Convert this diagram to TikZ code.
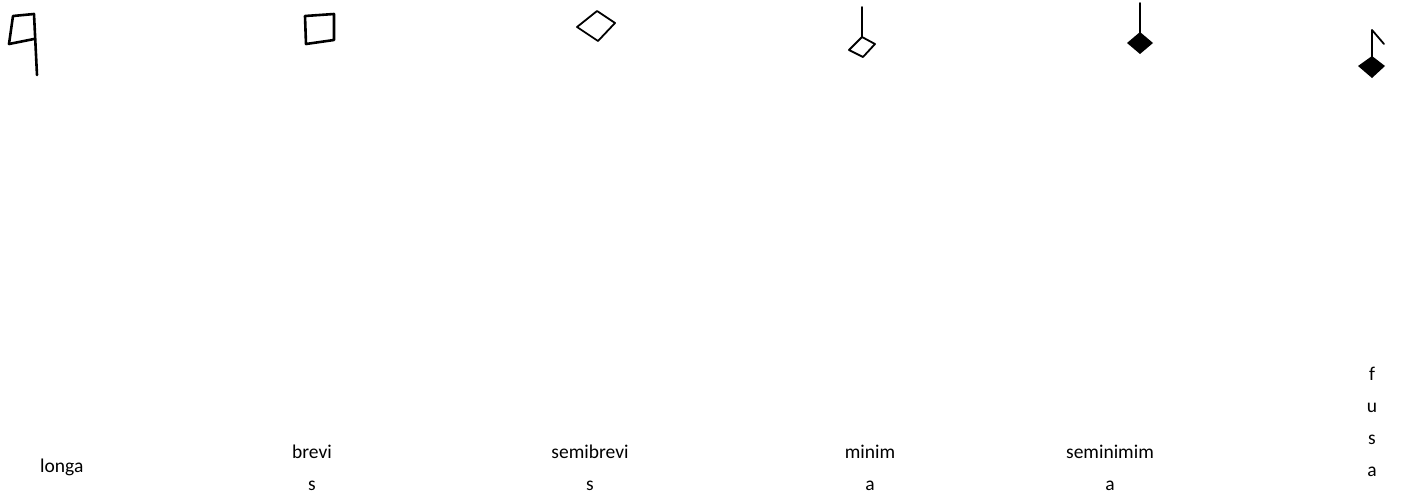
\documentclass[tikz,border=0pt]{standalone}
\usepackage{fontspec}
\setmainfont{Carlito}
\begin{document}
\begin{tikzpicture}[x=1pt,y=-1pt,
  lbl/.style={inner sep=0pt,align=center,font=\fontsize{19.5}{32}\selectfont},
  pen/.style={line width=2.6pt,line join=round,line cap=round},
  thinpen/.style={line width=1.8pt,line join=round,line cap=round}]
\useasboundingbox (0,0) rectangle (1401,501);
% longa
\draw[pen] (9,44) -- (13,16) -- (34,14) -- (37,75);
\draw[pen] (9,44) -- (34,39);
% brevis
\draw[pen] (305,16) -- (334,14) -- (334,40) -- (306,44) -- cycle;
% semibrevis
\draw[thinpen] (577,27) -- (597,11) -- (615,23) -- (598,41) -- cycle;
% minima
\draw[thinpen] (862,7) -- (862,37);
\draw[thinpen] (862,37) -- (875,44) -- (863,57) -- (849,50) -- cycle;
% seminimima
\draw[thinpen] (1140,3) -- (1140,33);
\fill[line join=round] (1140,32) -- (1153,43) -- (1140,54) -- (1127,43) -- cycle;
% fusa
\draw[thinpen] (1384,44) -- (1372,30) -- (1372,57);
\fill (1372,56) -- (1385,66) -- (1372,78) -- (1358,66) -- cycle;
% labels
\node[lbl,anchor=west] (longa) at (40,467) {longa};
\node[lbl] (brevis) at (312,468) {brevi\\s};
\node[lbl] (semibrevis) at (590,468) {semibrevi\\s};
\node[lbl] (minima) at (870,468) {minim\\a};
\node[lbl] (seminimima) at (1110,468) {seminimim\\a};
\node[lbl] (fusa) at (1372,422) {f\\u\\s\\a};
\end{tikzpicture}
\end{document}
